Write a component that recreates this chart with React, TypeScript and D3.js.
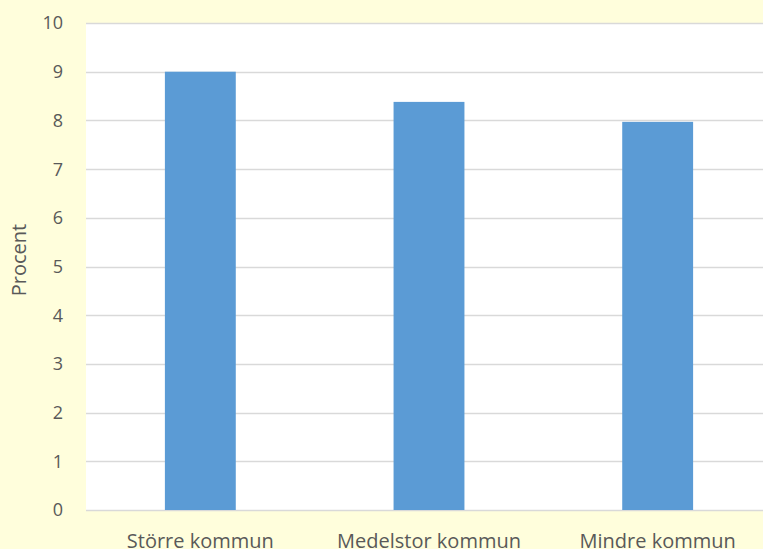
import { useEffect, useRef } from "react";
import * as d3 from "d3";

const categories = ["Större kommun", "Medelstor kommun", "Mindre kommun"];
const values = [9.0, 8.38, 7.97];
const yTicks = [0, 1, 2, 3, 4, 5, 6, 7, 8, 9, 10];

export default function App() {
  const svgRef = useRef<SVGSVGElement | null>(null);

  useEffect(() => {
    if (!svgRef.current) return;
    const width = 763;
    const height = 549;
    const margin = { top: 23, right: -9, bottom: 39, left: 86 };
    const font = "'Open Sans', sans-serif";
    const textColor = "#595959";

    const svg = d3.select(svgRef.current);
    svg.selectAll("*").remove();

    svg.append("rect").attr("width", width).attr("height", height).attr("fill", "#FFFEDC");

    const x = d3
      .scaleBand()
      .domain(categories)
      .range([margin.left, width - margin.right])
      .paddingInner(0.69)
      .paddingOuter(0.345);

    const y = d3
      .scaleLinear()
      .domain([0, 10])
      .range([height - margin.bottom, margin.top]);

    svg
      .append("rect")
      .attr("x", margin.left)
      .attr("y", margin.top)
      .attr("width", width - margin.left)
      .attr("height", height - margin.bottom - margin.top)
      .attr("fill", "#ffffff");

    // gridlines
    svg
      .append("g")
      .selectAll("line")
      .data(yTicks)
      .join("line")
      .attr("x1", margin.left)
      .attr("x2", width)
      .attr("y1", (d) => Math.round(y(d)) + 0.5)
      .attr("y2", (d) => Math.round(y(d)) + 0.5)
      .attr("stroke", "#D9D9D9")
      .attr("stroke-width", 1.5);

    // bars
    svg
      .append("g")
      .selectAll("rect")
      .data(values)
      .join("rect")
      .attr("x", (_, i) => x(categories[i]) as number)
      .attr("y", (d) => y(d))
      .attr("width", x.bandwidth())
      .attr("height", (d) => y(0) - y(d))
      .attr("fill", "#5B9BD5");

    // y tick labels
    svg
      .append("g")
      .selectAll("text")
      .data(yTicks)
      .join("text")
      .attr("x", 63)
      .attr("y", (d) => y(d))
      .attr("dy", "0.36em")
      .attr("text-anchor", "end")
      .attr("font-family", font)
      .attr("font-size", 18)
      .attr("fill", textColor)
      .text((d) => d);

    // x labels
    svg
      .append("g")
      .selectAll("text")
      .data(categories)
      .join("text")
      .attr("x", (d) => (x(d) as number) + x.bandwidth() / 2)
      .attr("y", 548)
      .attr("text-anchor", "middle")
      .attr("font-family", font)
      .attr("font-size", 20)
      .attr("fill", textColor)
      .text((d) => d);

    svg
      .append("text")
      .attr("transform", "rotate(-90)")
      .attr("x", -260)
      .attr("y", 26)
      .attr("text-anchor", "middle")
      .attr("font-family", font)
      .attr("font-size", 20)
      .attr("fill", textColor)
      .text("Procent");
  }, []);

  return (
    <svg
      ref={svgRef}
      width={763}
      height={549}
      style={{ position: "absolute", left: 0, top: 0, display: "block" }}
    ></svg>
  );
}
